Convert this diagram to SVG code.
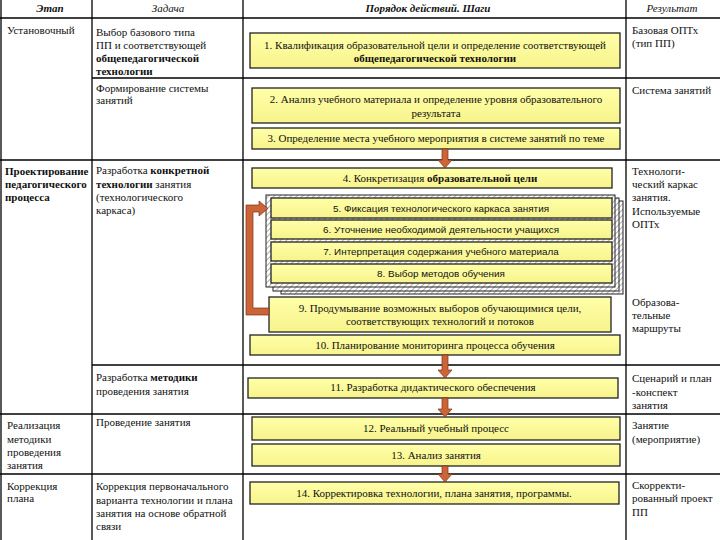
<svg xmlns="http://www.w3.org/2000/svg" width="720" height="540" viewBox="0 0 720 540">
<defs>
<pattern id="hatch" width="4" height="4" patternUnits="userSpaceOnUse" patternTransform="rotate(45)">
<rect width="4" height="4" fill="#ffffff"/>
<line x1="0" y1="0" x2="0" y2="4" stroke="#777" stroke-width="1.2"/>
</pattern>
<linearGradient id="yel" x1="0" y1="0" x2="0" y2="1">
<stop offset="0" stop-color="#ffffa8"/>
<stop offset="1" stop-color="#f7f38c"/>
</linearGradient>
</defs>
<style>
.t{font-family:'Liberation Serif','Times New Roman',serif;font-size:11px;fill:#111}
.s{font-family:'Liberation Sans',Arial,sans-serif;font-size:9.9px;fill:#111}
.c{text-anchor:middle}
.b{font-weight:bold}
.h{font-family:'Liberation Serif','Times New Roman',serif;font-size:11px;font-style:italic;fill:#111;text-anchor:middle}
.grid{stroke:#000;stroke-width:1.3;fill:none}
.box{fill:url(#yel);stroke:#222;stroke-width:1.3}
.hb{fill:url(#hatch);stroke:#222;stroke-width:1}
.arr{fill:#cc6438;stroke:#7a3418;stroke-width:0.7}
</style>
<rect width="720" height="540" fill="#fff"/>
<g id="table">
<line class="grid" x1="0" y1="18" x2="720" y2="18"/>
<line class="grid" x1="92" y1="78" x2="720" y2="78"/>
<line class="grid" x1="0" y1="160" x2="720" y2="160"/>
<line class="grid" x1="92" y1="365" x2="720" y2="365"/>
<line class="grid" x1="0" y1="414" x2="720" y2="414"/>
<line class="grid" x1="0" y1="474" x2="720" y2="474"/>
<line class="grid" x1="1" y1="0" x2="1" y2="540"/>
<line class="grid" x1="92" y1="0" x2="92" y2="540" stroke-width="1.8"/>
<line class="grid" x1="243" y1="0" x2="243" y2="540" stroke-width="1.8"/>
<line class="grid" x1="626" y1="0" x2="626" y2="540" stroke-width="1.6"/>
<text class="h b" x="50" y="12">Этап</text>
<text class="h" x="168" y="12">Задача</text>
<text class="h b" x="428" y="12">Порядок действий. Шаги</text>
<text class="h" x="672" y="12">Результат</text>
</g>
<g id="stage-column">
<text class="t" x="7" y="34">Установочный</text>
<text class="t b" x="5" y="175" font-size="10.6">Проектирование</text>
<text class="t b" x="5" y="188" font-size="10.6">педагогического</text>
<text class="t b" x="5" y="201" font-size="10.6">процесса</text>
<text class="t" x="7" y="429">Реализация</text>
<text class="t" x="7" y="443">методики</text>
<text class="t" x="7" y="456">проведения</text>
<text class="t" x="7" y="469">занятия</text>
<text class="t" x="7" y="490">Коррекция</text>
<text class="t" x="7" y="502">плана</text>
</g>
<g id="task-column">
<text class="t" x="96" y="36">Выбор базового типа</text>
<text class="t" x="96" y="49">ПП и соответствующей</text>
<text class="t b" x="96" y="62">общепедагогической</text>
<text class="t b" x="96" y="75">технологии</text>
<text class="t" x="96" y="92">Формирование системы</text>
<text class="t" x="96" y="104">занятий</text>
<text class="t" x="96" y="174">Разработка <tspan class="b">конкретной</tspan></text>
<text class="t" x="96" y="188"><tspan class="b">технологии</tspan> занятия</text>
<text class="t" x="96" y="201">(технологического</text>
<text class="t" x="96" y="214">каркаса)</text>
<text class="t" x="96" y="381">Разработка <tspan class="b">методики</tspan></text>
<text class="t" x="96" y="395">проведения занятия</text>
<text class="t" x="96" y="426">Проведение занятия</text>
<text class="t" x="96" y="490">Коррекция первоначального</text>
<text class="t" x="96" y="504">варианта технологии и плана</text>
<text class="t" x="96" y="517">занятия на основе обратной</text>
<text class="t" x="96" y="530">связи</text>
</g>
<g id="result-column">
<text class="t" x="632" y="34">Базовая ОПТх</text>
<text class="t" x="632" y="47">(тип ПП)</text>
<text class="t" x="632" y="94">Система занятий</text>
<text class="t" x="632" y="175">Технологи-</text>
<text class="t" x="632" y="188">ческий каркас</text>
<text class="t" x="632" y="201">занятия.</text>
<text class="t" x="632" y="215">Используемые</text>
<text class="t" x="632" y="228">ОПТх</text>
<text class="t" x="632" y="306">Образова-</text>
<text class="t" x="632" y="319">тельные</text>
<text class="t" x="632" y="332">маршруты</text>
<text class="t" x="632" y="382">Сценарий и план</text>
<text class="t" x="632" y="396">-конспект</text>
<text class="t" x="632" y="409">занятия</text>
<text class="t" x="632" y="429">Занятие</text>
<text class="t" x="632" y="443">(мероприятие)</text>
<text class="t" x="632" y="489">Скорректи-</text>
<text class="t" x="632" y="502">рованный проект</text>
<text class="t" x="632" y="516">ПП</text>
</g>
<g id="step1">
<rect class="box" x="250" y="33" width="370" height="35"/>
<text class="t c" x="435" y="49">1. Квалификация образовательной цели и определение соответствующей</text>
<text class="t c b" x="435" y="62">общепедагогической технологии</text>
</g>
<g id="step2">
<rect class="box" x="252" y="88" width="368" height="35"/>
<text class="t c" x="436" y="103">2. Анализ учебного материала и определение уровня образовательного</text>
<text class="t c" x="436" y="117">результата</text>
</g>
<g id="step3">
<rect class="box" x="252" y="128" width="368" height="21"/>
<text class="t c" x="436" y="142">3. Определение места учебного мероприятия в системе занятий по теме</text>
</g>
<g id="step4">
<rect class="box" x="252" y="168" width="360" height="20"/>
<text class="t c" x="440" y="182">4. Конкретизация <tspan class="b">образовательной цели</tspan></text>
</g>
<g id="steps5-8-frame">
<rect class="hb" x="281" y="201" width="342" height="93"/>
<rect class="hb" x="273" y="198" width="346" height="93"/>
<rect class="hb" x="266" y="195" width="349" height="92"/>
</g>
<g id="step5">
<rect class="box" x="271" y="198" width="341" height="20"/>
<text class="s c" x="441" y="212">5. Фиксация технологического каркаса занятия</text>
</g>
<g id="step6">
<rect class="box" x="271" y="220" width="341" height="19"/>
<text class="s c" x="441" y="233">6. Уточнение необходимой деятельности учащихся</text>
</g>
<g id="step7">
<rect class="box" x="271" y="242" width="341" height="19"/>
<text class="s c" x="441" y="255">7. Интерпретация содержания учебного материала</text>
</g>
<g id="step8">
<rect class="box" x="271" y="264" width="341" height="19"/>
<text class="s c" x="441" y="277">8. Выбор методов обучения</text>
</g>
<g id="step9">
<rect class="box" x="269" y="297" width="342" height="35"/>
<text class="t c" x="440" y="312">9. Продумывание возможных выборов обучающимися цели,</text>
<text class="t c" x="440" y="325">соответствующих технологий и потоков</text>
</g>
<g id="step10">
<rect class="box" x="250" y="335" width="370" height="20"/>
<text class="t c" x="435" y="349">10. Планирование мониторинга процесса обучения</text>
</g>
<g id="step11">
<rect class="box" x="248" y="378" width="370" height="20"/>
<text class="t c" x="433" y="391">11. Разработка дидактического обеспечения</text>
</g>
<g id="step12">
<rect class="box" x="252" y="417" width="368" height="23"/>
<text class="t c" x="436" y="432">12. Реальный учебный процесс</text>
</g>
<g id="step13">
<rect class="box" x="252" y="444" width="368" height="22"/>
<text class="t c" x="436" y="459">13. Анализ занятия</text>
</g>
<g id="step14">
<rect class="box" x="250" y="482" width="369" height="22"/>
<text class="t c" x="434" y="497">14. Корректировка технологии, плана занятия, программы.</text>
</g>
<g id="connectors">
<polygon class="arr" points="442,149 448,149 448,160 452,160 445,168 438,160 442,160"/>
<polygon class="arr" points="442,355 448,355 448,370 452,370 445,378 438,370 442,370"/>
<polygon class="arr" points="442,398 448,398 448,409 452,409 445,417 438,409 442,409"/>
<polygon class="arr" points="442,466 448,466 448,474 452,474 445,482 438,474 442,474"/>
<polygon class="arr" points="269,315 246,315 246,205 259,205 259,201 268,208.5 259,216 259,212 253,212 253,308 269,308"/>
</g>
</svg>
